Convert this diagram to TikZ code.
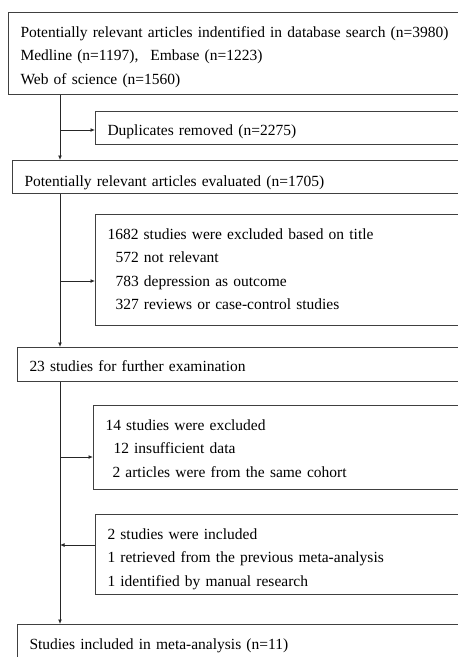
\documentclass[tikz,border=0pt]{standalone}
\usepackage{fontspec}
\setmainfont{Liberation Serif}
\usetikzlibrary{arrows.meta, positioning}

\tikzset{
  box/.style={draw=black!75, line width=1pt, anchor=north west, align=left,
    text width=460pt, inner xsep=12pt, inner ysep=0pt, text height=24.5pt,
    font=\fontsize{15.5}{23.5}\selectfont},
  flow/.style={draw=black!85, line width=1pt, -{Latex[length=4.5pt,width=4pt]}}
}

\begin{document}
\begin{tikzpicture}[x=1pt,y=1pt]
            \useasboundingbox (0,0) rectangle (458,-657);
            \clip (0,0) rectangle (458,-657);

            \node[box, text depth=57.5pt] (search) at (8,-12)
                {Potentially relevant articles indentified in database search (n=3980)\\
                 Medline (n=1197),\hspace{12pt}Embase (n=1223)\\
                 Web of science (n=1560)};
            \node[box, text height=23.5pt, text depth=9.5pt] (duplicates) at (95,-111)
                {Duplicates removed (n=2275)};
            \node[box, text height=25.5pt, text depth=7.5pt] (evaluated) at (12,-160)
                {Potentially relevant articles evaluated (n=1705)};
            \node[box, text depth=86.5pt] (title) at (95,-214)
                {1682 studies were excluded based on title\\
                 \hspace{8pt}572 not relevant\\
                 \hspace{8pt}783 depression as outcome\\
                 \hspace{8pt}327 reviews or case-control studies};
            \node[box, text height=23.5pt, text depth=10.5pt] (further) at (17,-347)
                {23 studies for further examination};
            \node[box, text depth=59.5pt] (excluded) at (93,-405)
                {14 studies were excluded\\
                 \hspace{8pt}12 insufficient data\\
                 \hspace{7pt}2 articles were from the same cohort};
            \node[box, text depth=55.5pt] (added) at (95,-514)
                {2 studies were included\\
                 1 retrieved from the previous meta-analysis\\
                 1 identified by manual research};
            \node[box, text depth=20pt] (final) at (17,-624)
                {Studies included in meta-analysis (n=11)};

            % main line down the left
            \coordinate (spine) at (60,0);
            \draw[flow] (search.south -| spine) -- (evaluated.north -| spine);
            \draw[flow] (evaluated.south -| spine) -- (further.north -| spine);
            \draw[flow] (further.south -| spine) -- (final.north -| spine);

            % branches to the side boxes
            \coordinate (j1) at (60,-130);
            \coordinate (j2) at (60,-281);
            \coordinate (j3) at (60,-457);
            \coordinate (j4) at (60,-545);
            \draw[flow] (j1) -- (j1 -| duplicates.west);
            \draw[flow] (j2) -- (j2 -| title.west);
            \draw[flow] (j3) -- (j3 -| excluded.west);
            \draw[flow] (j4 -| added.west) -- (j4);
\end{tikzpicture}
\end{document}
